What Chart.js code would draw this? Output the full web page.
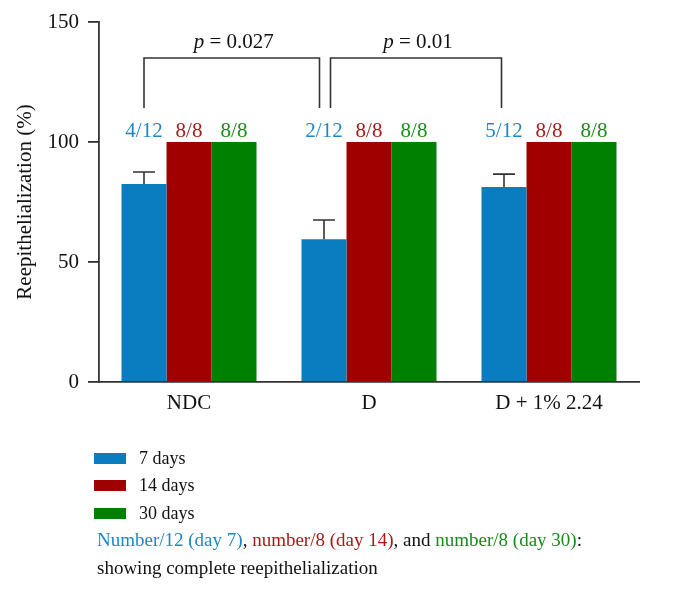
<!DOCTYPE html>
<html>
<head>
<meta charset="utf-8">
<script src="https://cdn.jsdelivr.net/npm/chart.js@4.4.0/dist/chart.umd.min.js"></script>
<style>
  body { margin: 0; background: #fff; font-family: "Liberation Serif", serif; }
  #wrap { position: relative; width: 680px; height: 430px; }
  #legend { position: absolute; left: 0; top: 0; width: 680px; height: 594px; pointer-events: none; }
  .row { position: absolute; left: 94px; height: 28px; line-height: 28px; font-size: 18px; color: #111; }
  .sw { display: inline-block; width: 32px; height: 11px; vertical-align: middle; margin-right: 13px; position: relative; top: -1px; }
  .note { position: absolute; left: 97px; font-size: 19px; line-height: 28px; color: #111; }
</style>
</head>
<body>
<div id="wrap"><canvas id="chart_reep"></canvas></div>
<div id="legend"></div>
<script>
// data
var groups = ["NDC", "D", "D + 1% 2.24"]
var seriesNames = ["7 days", "14 days", "30 days"]
var day7 = [82.5, 59.5, 81.3]
var day7err = [5, 8, 5.3]
var day14 = [100, 100, 100]
var day30 = [100, 100, 100]
var counts7 = ["4/12", "2/12", "5/12"]
var counts14 = ["8/8", "8/8", "8/8"]
var counts30 = ["8/8", "8/8", "8/8"]
var yTicks = [0, 50, 100, 150]
// brackets: from group, to group, p text
var bracketFrom = [0, 1]
var bracketTo = [1, 2]
var pValues = ["0.027", "0.01"]

var barColors = ["#0a7dc1", "#a00000", "#008000"]
var textColors = ["#1f86c6", "#a81a1a", "#1a8a1a"]
var axisColor = "#333333"
var fontFam = "'Liberation Serif', serif"

//draws error bars, count labels and p-value brackets
var extras = {
    id: "extras",
    afterDatasetsDraw: function(chart) {
        var c = chart.ctx
        var y = chart.scales.y
        var m0 = chart.getDatasetMeta(0).data
        c.save()
        c.strokeStyle = axisColor
        c.lineWidth = 1.6

        //error bars on the 7 day bars
        m0.forEach(function(bar, i) {
            var top = y.getPixelForValue(day7[i] + day7err[i])
            c.beginPath()
            c.moveTo(bar.x, bar.y)
            c.lineTo(bar.x, top)
            c.moveTo(bar.x - 11, top)
            c.lineTo(bar.x + 11, top)
            c.stroke()
        })

        //count labels
        var allCounts = [counts7, counts14, counts30]
        c.font = "21px " + fontFam
        c.textAlign = "center"
        c.textBaseline = "alphabetic"
        var ly = y.getPixelForValue(100) - 5
        allCounts.forEach(function(list, d) {
            var meta = chart.getDatasetMeta(d).data
            c.fillStyle = textColors[d]
            list.forEach(function(t, i) {
                c.fillText(t, meta[i].x, ly)
            })
        })

        //brackets
        var topY = y.getPixelForValue(135)
        var legY = y.getPixelForValue(114.2)
        var offs = [[0, -4.5], [6.5, -2.5]]
        bracketFrom.forEach(function(f, k) {
            var x1 = m0[f].x + offs[k][0]
            var x2 = m0[bracketTo[k]].x + offs[k][1]
            c.beginPath()
            c.moveTo(x1, legY)
            c.lineTo(x1, topY)
            c.lineTo(x2, topY)
            c.lineTo(x2, legY)
            c.stroke()

            var rest = " = " + pValues[k]
            c.font = "italic 21px " + fontFam
            var wp = c.measureText("p").width
            c.font = "21px " + fontFam
            var wr = c.measureText(rest).width
            var cx = (x1 + x2) / 2 + 2
            var sx = cx - (wp + wr) / 2
            var ty = y.getPixelForValue(139)
            c.fillStyle = "#111"
            c.textAlign = "left"
            c.font = "italic 21px " + fontFam
            c.fillText("p", sx, ty)
            c.font = "21px " + fontFam
            c.fillText(rest, sx + wp, ty)
        })
        c.restore()
    }
}

var ctx = document.getElementById("chart_reep").getContext("2d")
var myChart = new Chart(ctx, {
    type: "bar",
    data: {
        labels: groups,
        datasets: [
            { label: seriesNames[0], data: day7, backgroundColor: barColors[0] },
            { label: seriesNames[1], data: day14, backgroundColor: barColors[1] },
            { label: seriesNames[2], data: day30, backgroundColor: barColors[2] }
        ]
    },
    options: {
        responsive: true,
        maintainAspectRatio: false,
        animation: false,
        layout: { padding: { top: 22, right: 41, left: 0, bottom: 20 } },
        plugins: { legend: { display: false }, tooltip: { enabled: false } },
        datasets: { bar: { categoryPercentage: 0.75, barPercentage: 1 } },
        scales: {
            x: {
                grid: { display: false },
                border: { display: true, color: axisColor, width: 1.8 },
                ticks: { color: "#111", font: { family: fontFam, size: 21 }, padding: 1 },
                afterFit: function(s) { s.height = 28 }
            },
            y: {
                min: 0,
                max: 150,
                afterBuildTicks: function(s) { s.ticks = yTicks.map(function(v) { return { value: v } }) },
                grid: { drawOnChartArea: false, drawTicks: true, tickLength: 11, color: axisColor, lineWidth: 1.8 },
                border: { display: true, color: axisColor, width: 1.8 },
                ticks: { color: "#111", font: { family: fontFam, size: 21 }, padding: 9 },
                title: { display: true, text: "Reepithelialization (%)", color: "#111", font: { family: fontFam, size: 21 }, padding: { top: 13, bottom: 0 } },
                afterFit: function(s) { s.width = 99 }
            }
        }
    },
    plugins: [extras]
})

//legend and note below the chart
var lg = document.getElementById("legend")
var rowTops = [444, 471, 499]
seriesNames.forEach(function(n, i) {
    var r = document.createElement("div")
    r.className = "row"
    r.style.top = rowTops[i] + "px"
    r.innerHTML = '<span class="sw" style="background:' + barColors[i] + '"></span>' + n
    lg.appendChild(r)
})
var note = document.createElement("div")
note.className = "note"
note.style.top = "526px"
note.innerHTML = '<span style="color:' + textColors[0] + '">Number/12 (day 7)</span>, ' +
    '<span style="color:' + textColors[1] + '">number/8 (day 14)</span>, and ' +
    '<span style="color:' + textColors[2] + '">number/8 (day 30)</span>:<br>showing complete reepithelialization'
lg.appendChild(note)
</script>
</body>
</html>
